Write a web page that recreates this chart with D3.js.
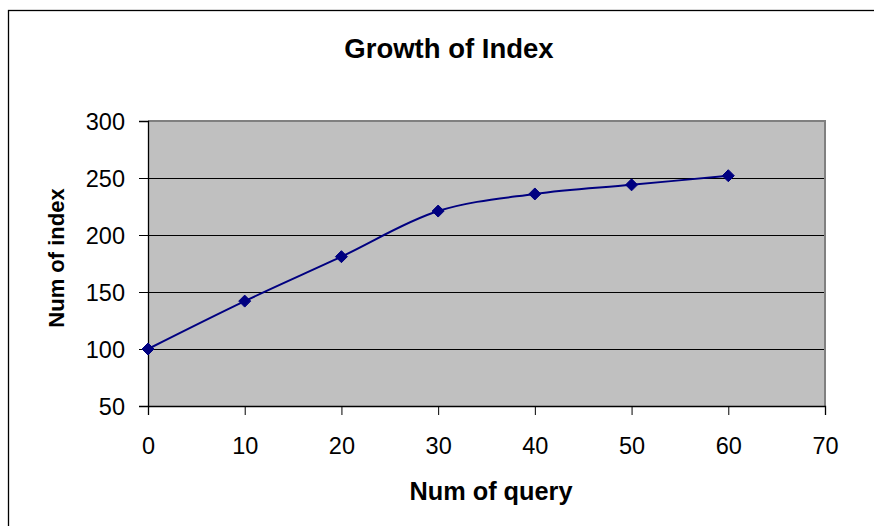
<!DOCTYPE html>
<html>
<head>
<meta charset="utf-8">
<script src="https://cdn.jsdelivr.net/npm/d3@7/dist/d3.min.js"></script>
<style>
  html, body { margin: 0; padding: 0; background: #fff; }
  svg { display: block; font-family: Arial, "Liberation Sans", sans-serif; }
</style>
</head>
<body>
<svg id="chart" width="874" height="526"></svg>
<script>
const chartTitle = "Growth of Index";
const xTitle = "Num of query";
const yTitle = "Num of index";
const queries = [0, 10, 20, 30, 40, 50, 60];
const indexCounts = [100, 142, 181, 221, 236, 244, 252];
const xTicks = [0, 10, 20, 30, 40, 50, 60, 70];
const yTicks = [50, 100, 150, 200, 250, 300];

const svg = d3.select("#chart");
const W = 874, H = 526;
const plot = { left: 148, top: 121, right: 825, bottom: 406 };

svg.append("rect").attr("width", W).attr("height", H).attr("fill", "#fff");
// outer chart border (extends past the window on right/bottom)
svg.append("rect").attr("x", 8.5).attr("y", 10.5).attr("width", 900).attr("height", 600)
  .attr("fill", "none").attr("stroke", "#000").attr("stroke-width", 1.3);

const x = d3.scaleLinear().domain([0, 70]).range([plot.left, plot.right]);
const y = d3.scaleLinear().domain([50, 300]).range([plot.bottom, plot.top]);

// plot background
svg.append("rect").attr("x", plot.left).attr("y", plot.top)
  .attr("width", plot.right - plot.left).attr("height", plot.bottom - plot.top)
  .attr("fill", "#c0c0c0");

// gridlines
svg.append("g").selectAll("line").data(yTicks.filter(v => v > 50 && v < 300)).join("line")
  .attr("x1", plot.left).attr("x2", plot.right)
  .attr("y1", d => Math.round(y(d)) + 0.5).attr("y2", d => Math.round(y(d)) + 0.5)
  .attr("stroke", "#000").attr("stroke-width", 1);

// plot border top/right gray
svg.append("path")
  .attr("d", `M${plot.left},${plot.top} H${plot.right} V${plot.bottom}`)
  .attr("fill", "none").attr("stroke", "#808080").attr("stroke-width", 2);

// axes
const xAxis = d3.axisBottom(x).tickValues(xTicks).tickSize(9).tickPadding(22).tickFormat(d3.format("d"));
const yAxis = d3.axisLeft(y).tickValues(yTicks).tickSize(9).tickPadding(14).tickFormat(d3.format("d"));

const gx = svg.append("g").attr("transform", `translate(0,${plot.bottom})`).call(xAxis);
const gy = svg.append("g").attr("transform", `translate(${plot.left},0)`).call(yAxis);
[gx, gy].forEach(g => {
  g.select(".domain").attr("stroke", "#000").attr("stroke-width", 1.3);
  g.selectAll(".tick line").attr("stroke", "#000").attr("stroke-width", 1);
  g.selectAll(".tick text").attr("fill", "#000").attr("font-size", 23.5)
    .attr("font-family", "Arial, 'Liberation Sans', sans-serif");
});
gy.selectAll(".tick text").attr("dy", "0.36em");

// line
const data = queries.map((q, i) => ({ q, v: indexCounts[i] }));
const line = d3.line().x(d => x(d.q)).y(d => y(d.v)).curve(d3.curveCatmullRom.alpha(0.5));
svg.append("path").datum(data).attr("d", line)
  .attr("fill", "none").attr("stroke", "#000080").attr("stroke-width", 2);

// diamond markers
svg.append("g").selectAll("path").data(data).join("path")
  .attr("transform", d => `translate(${x(d.q)},${y(d.v)})`)
  .attr("d", "M0,-6 L6,0 L0,6 L-6,0 Z")
  .attr("fill", "#000080").attr("stroke", "#000080").attr("stroke-width", 1);

// titles
svg.append("text").attr("x", 449).attr("y", 58).attr("text-anchor", "middle")
  .attr("font-size", 27.5).attr("font-weight", "bold").text(chartTitle);
svg.append("text").attr("x", 491).attr("y", 500).attr("text-anchor", "middle")
  .attr("font-size", 25.3).attr("font-weight", "bold").text(xTitle);
svg.append("text").attr("transform", "translate(64,258) rotate(-90)").attr("text-anchor", "middle")
  .attr("font-size", 22).attr("font-weight", "bold").text(yTitle);
</script>
</body>
</html>
